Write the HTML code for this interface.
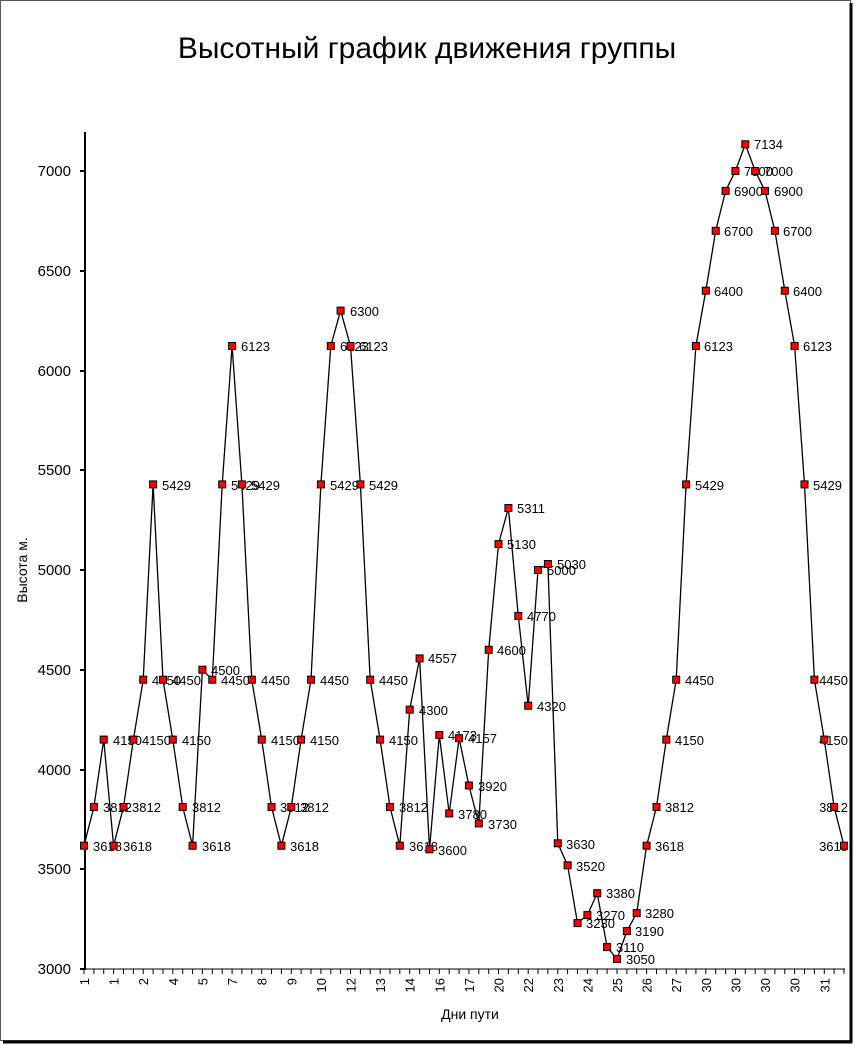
<!DOCTYPE html>
<html><head><meta charset="utf-8"><style>
html,body{margin:0;padding:0;background:#fff;}
svg{display:block;font-family:"Liberation Sans",Arial,sans-serif;}
</style></head><body>
<svg width="855" height="1045" viewBox="0 0 855 1045" xmlns="http://www.w3.org/2000/svg">
<rect x="0" y="0" width="855" height="1045" fill="#fff"/>
<rect x="0.5" y="0.5" width="850" height="1040" fill="none" stroke="#555" stroke-width="1"/>
<line x1="851" y1="3" x2="851" y2="1043" stroke="#000" stroke-width="3"/>
<line x1="3" y1="1042" x2="852" y2="1042" stroke="#000" stroke-width="3"/>
<text x="427" y="58" font-size="30" text-anchor="middle">Высотный график движения группы</text>
<!-- axes -->
<line x1="85" y1="132" x2="85" y2="970" stroke="#000" stroke-width="2"/>
<line x1="84" y1="969" x2="845" y2="969" stroke="#000" stroke-width="1"/>
<g stroke="#000" stroke-width="2">
<line x1="80" y1="171" x2="85" y2="171"/><line x1="80" y1="271" x2="85" y2="271"/><line x1="80" y1="371" x2="85" y2="371"/><line x1="80" y1="470" x2="85" y2="470"/><line x1="80" y1="570" x2="85" y2="570"/><line x1="80" y1="670" x2="85" y2="670"/><line x1="80" y1="770" x2="85" y2="770"/><line x1="80" y1="869" x2="85" y2="869"/><line x1="80" y1="969" x2="85" y2="969"/>
</g>
<g font-size="15" text-anchor="end">
<text x="71" y="176">7000</text><text x="71" y="276">6500</text><text x="71" y="376">6000</text><text x="71" y="475">5500</text><text x="71" y="575">5000</text><text x="71" y="675">4500</text><text x="71" y="775">4000</text><text x="71" y="874">3500</text><text x="71" y="974">3000</text>
</g>
<text transform="translate(27,570) rotate(-90)" font-size="14" text-anchor="middle">Высота м.</text>
<text x="470" y="1019" font-size="14" text-anchor="middle">Дни пути</text>
<!-- x ticks -->
<g stroke="#000" stroke-width="1">
<path d="M84 969v5M93.9 969v5M103.7 969v5M113.6 969v5M123.5 969v5M133.4 969v5M143.2 969v5M153.1 969v5M163 969v5M172.8 969v5M182.7 969v5M192.6 969v5M202.4 969v5M212.3 969v5M222.2 969v5M232.1 969v5M241.9 969v5M251.8 969v5M261.7 969v5M271.5 969v5M281.4 969v5M291.3 969v5M301.1 969v5M311 969v5M320.9 969v5M330.8 969v5M340.6 969v5M350.5 969v5M360.4 969v5M370.2 969v5M380.1 969v5M390 969v5M399.8 969v5M409.7 969v5M419.6 969v5M429.5 969v5M439.3 969v5M449.2 969v5M459.1 969v5M468.9 969v5M478.8 969v5M488.7 969v5M498.5 969v5M508.4 969v5M518.3 969v5M528.2 969v5M538 969v5M547.9 969v5M557.8 969v5M567.6 969v5M577.5 969v5M587.4 969v5M597.2 969v5M607.1 969v5M617 969v5M626.9 969v5M636.7 969v5M646.6 969v5M656.5 969v5M666.3 969v5M676.2 969v5M686.1 969v5M695.9 969v5M705.8 969v5M715.7 969v5M725.6 969v5M735.4 969v5M745.3 969v5M755.2 969v5M765 969v5M774.9 969v5M784.8 969v5M794.6 969v5M804.5 969v5M814.4 969v5M824.3 969v5M834.1 969v5M844 969v5"/>
</g>
<g font-size="13" text-anchor="end">
<text transform="translate(89,978) rotate(-90)">1</text>
<text transform="translate(118.6,978) rotate(-90)">1</text>
<text transform="translate(148.2,978) rotate(-90)">2</text>
<text transform="translate(177.8,978) rotate(-90)">4</text>
<text transform="translate(207.4,978) rotate(-90)">5</text>
<text transform="translate(237.1,978) rotate(-90)">7</text>
<text transform="translate(266.7,978) rotate(-90)">8</text>
<text transform="translate(296.3,978) rotate(-90)">9</text>
<text transform="translate(325.9,978) rotate(-90)">10</text>
<text transform="translate(355.5,978) rotate(-90)">12</text>
<text transform="translate(385.1,978) rotate(-90)">13</text>
<text transform="translate(414.7,978) rotate(-90)">14</text>
<text transform="translate(444.3,978) rotate(-90)">16</text>
<text transform="translate(473.9,978) rotate(-90)">17</text>
<text transform="translate(503.5,978) rotate(-90)">20</text>
<text transform="translate(533.2,978) rotate(-90)">22</text>
<text transform="translate(562.8,978) rotate(-90)">23</text>
<text transform="translate(592.4,978) rotate(-90)">24</text>
<text transform="translate(622,978) rotate(-90)">25</text>
<text transform="translate(651.6,978) rotate(-90)">26</text>
<text transform="translate(681.2,978) rotate(-90)">27</text>
<text transform="translate(710.8,978) rotate(-90)">30</text>
<text transform="translate(740.4,978) rotate(-90)">30</text>
<text transform="translate(770,978) rotate(-90)">30</text>
<text transform="translate(799.6,978) rotate(-90)">30</text>
<text transform="translate(829.3,978) rotate(-90)">31</text>
</g>
<!-- series line -->
<polyline fill="none" stroke="#000" stroke-width="1.3" points="84,845.7 93.9,807 103.7,739.6 113.6,845.7 123.5,807 133.4,739.6 143.2,679.7 153.1,484.4 163,679.7 172.8,739.6 182.7,807 192.6,845.7 202.4,669.7 212.3,679.7 222.2,484.4 232.1,346 241.9,484.4 251.8,679.7 261.7,739.6 271.5,807 281.4,845.7 291.3,807 301.1,739.6 311,679.7 320.9,484.4 330.8,346 340.6,310.6 350.5,346 360.4,484.4 370.2,679.7 380.1,739.6 390,807 399.8,845.7 409.7,709.6 419.6,658.4 429.5,849.3 439.3,735 449.2,813.4 459.1,738.2 468.9,785.5 478.8,823.4 488.7,649.8 498.5,544.1 508.4,508 518.3,615.9 528.2,705.7 538,570 547.9,564 557.8,843.3 567.6,865.3 577.5,923.1 587.4,915.1 597.2,893.2 607.1,947.1 617,959 626.9,931.1 636.7,913.1 646.6,845.7 656.5,807 666.3,739.6 676.2,679.7 686.1,484.4 695.9,346 705.8,290.7 715.7,230.8 725.6,190.9 735.4,171 745.3,144.3 755.2,171 765,190.9 774.9,230.8 784.8,290.7 794.6,346 804.5,484.4 814.4,679.7 824.3,739.6 834.1,807 844,845.7"/>
<!-- data labels -->
<g font-size="13">
<text x="93" y="851">3618</text><text x="103" y="812">3812</text><text x="113" y="745">4150</text><text x="123" y="851">3618</text><text x="132" y="812">3812</text><text x="142" y="745">4150</text><text x="152" y="685">4450</text><text x="162" y="490">5429</text><text x="172" y="685">4450</text><text x="182" y="745">4150</text><text x="192" y="812">3812</text><text x="202" y="851">3618</text><text x="211" y="675">4500</text><text x="221" y="685">4450</text><text x="231" y="490">5429</text><text x="241" y="351">6123</text><text x="251" y="490">5429</text><text x="261" y="685">4450</text><text x="271" y="745">4150</text><text x="280" y="812">3812</text><text x="290" y="851">3618</text><text x="300" y="812">3812</text><text x="310" y="745">4150</text><text x="320" y="685">4450</text><text x="330" y="490">5429</text><text x="340" y="351">6123</text><text x="350" y="316">6300</text><text x="359" y="351">6123</text><text x="369" y="490">5429</text><text x="379" y="685">4450</text><text x="389" y="745">4150</text><text x="399" y="812">3812</text><text x="409" y="851">3618</text><text x="419" y="715">4300</text><text x="428" y="663">4557</text><text x="438" y="855">3600</text><text x="448" y="740">4173</text><text x="458" y="819">3780</text><text x="468" y="743">4157</text><text x="478" y="791">3920</text><text x="488" y="829">3730</text><text x="497" y="655">4600</text><text x="507" y="549">5130</text><text x="517" y="513">5311</text><text x="527" y="621">4770</text><text x="537" y="711">4320</text><text x="547" y="575">5000</text><text x="557" y="569">5030</text><text x="566" y="849">3630</text><text x="576" y="871">3520</text><text x="586" y="928">3230</text><text x="596" y="920">3270</text><text x="606" y="898">3380</text><text x="616" y="952">3110</text><text x="626" y="964">3050</text><text x="635" y="936">3190</text><text x="645" y="918">3280</text><text x="655" y="851">3618</text><text x="665" y="812">3812</text><text x="675" y="745">4150</text><text x="685" y="685">4450</text><text x="695" y="490">5429</text><text x="704" y="351">6123</text><text x="714" y="296">6400</text><text x="724" y="236">6700</text><text x="734" y="196">6900</text><text x="744" y="176">7000</text><text x="754" y="149">7134</text><text x="764" y="176">7000</text><text x="774" y="196">6900</text><text x="783" y="236">6700</text><text x="793" y="296">6400</text><text x="803" y="351">6123</text><text x="813" y="490">5429</text>
<text x="848" y="685" text-anchor="end">4450</text><text x="848" y="745" text-anchor="end">4150</text><text x="848" y="812" text-anchor="end">3812</text><text x="848" y="851" text-anchor="end">3618</text>
</g>
<!-- markers -->
<g fill="#f00" stroke="#000" stroke-width="1">
<rect x="80.5" y="842.2" width="7" height="7"/><rect x="90.4" y="803.5" width="7" height="7"/><rect x="100.2" y="736.1" width="7" height="7"/><rect x="110.1" y="842.2" width="7" height="7"/><rect x="120" y="803.5" width="7" height="7"/><rect x="129.9" y="736.1" width="7" height="7"/><rect x="139.7" y="676.2" width="7" height="7"/><rect x="149.6" y="480.9" width="7" height="7"/><rect x="159.5" y="676.2" width="7" height="7"/><rect x="169.3" y="736.1" width="7" height="7"/><rect x="179.2" y="803.5" width="7" height="7"/><rect x="189.1" y="842.2" width="7" height="7"/><rect x="198.9" y="666.2" width="7" height="7"/><rect x="208.8" y="676.2" width="7" height="7"/><rect x="218.7" y="480.9" width="7" height="7"/><rect x="228.6" y="342.5" width="7" height="7"/><rect x="238.4" y="480.9" width="7" height="7"/><rect x="248.3" y="676.2" width="7" height="7"/><rect x="258.2" y="736.1" width="7" height="7"/><rect x="268" y="803.5" width="7" height="7"/><rect x="277.9" y="842.2" width="7" height="7"/><rect x="287.8" y="803.5" width="7" height="7"/><rect x="297.6" y="736.1" width="7" height="7"/><rect x="307.5" y="676.2" width="7" height="7"/><rect x="317.4" y="480.9" width="7" height="7"/><rect x="327.3" y="342.5" width="7" height="7"/><rect x="337.1" y="307.1" width="7" height="7"/><rect x="347" y="342.5" width="7" height="7"/><rect x="356.9" y="480.9" width="7" height="7"/><rect x="366.7" y="676.2" width="7" height="7"/><rect x="376.6" y="736.1" width="7" height="7"/><rect x="386.5" y="803.5" width="7" height="7"/><rect x="396.3" y="842.2" width="7" height="7"/><rect x="406.2" y="706.1" width="7" height="7"/><rect x="416.1" y="654.9" width="7" height="7"/><rect x="426" y="845.8" width="7" height="7"/><rect x="435.8" y="731.5" width="7" height="7"/><rect x="445.7" y="809.9" width="7" height="7"/><rect x="455.6" y="734.7" width="7" height="7"/><rect x="465.4" y="782" width="7" height="7"/><rect x="475.3" y="819.9" width="7" height="7"/><rect x="485.2" y="646.3" width="7" height="7"/><rect x="495" y="540.6" width="7" height="7"/><rect x="504.9" y="504.5" width="7" height="7"/><rect x="514.8" y="612.4" width="7" height="7"/><rect x="524.7" y="702.2" width="7" height="7"/><rect x="534.5" y="566.5" width="7" height="7"/><rect x="544.4" y="560.5" width="7" height="7"/><rect x="554.3" y="839.8" width="7" height="7"/><rect x="564.1" y="861.8" width="7" height="7"/><rect x="574" y="919.6" width="7" height="7"/><rect x="583.9" y="911.6" width="7" height="7"/><rect x="593.7" y="889.7" width="7" height="7"/><rect x="603.6" y="943.6" width="7" height="7"/><rect x="613.5" y="955.5" width="7" height="7"/><rect x="623.4" y="927.6" width="7" height="7"/><rect x="633.2" y="909.6" width="7" height="7"/><rect x="643.1" y="842.2" width="7" height="7"/><rect x="653" y="803.5" width="7" height="7"/><rect x="662.8" y="736.1" width="7" height="7"/><rect x="672.7" y="676.2" width="7" height="7"/><rect x="682.6" y="480.9" width="7" height="7"/><rect x="692.4" y="342.5" width="7" height="7"/><rect x="702.3" y="287.2" width="7" height="7"/><rect x="712.2" y="227.3" width="7" height="7"/><rect x="722.1" y="187.4" width="7" height="7"/><rect x="731.9" y="167.5" width="7" height="7"/><rect x="741.8" y="140.8" width="7" height="7"/><rect x="751.7" y="167.5" width="7" height="7"/><rect x="761.5" y="187.4" width="7" height="7"/><rect x="771.4" y="227.3" width="7" height="7"/><rect x="781.3" y="287.2" width="7" height="7"/><rect x="791.1" y="342.5" width="7" height="7"/><rect x="801" y="480.9" width="7" height="7"/><rect x="810.9" y="676.2" width="7" height="7"/><rect x="820.8" y="736.1" width="7" height="7"/><rect x="830.6" y="803.5" width="7" height="7"/><rect x="840.5" y="842.2" width="7" height="7"/>
</g>
</svg>
</body></html>
